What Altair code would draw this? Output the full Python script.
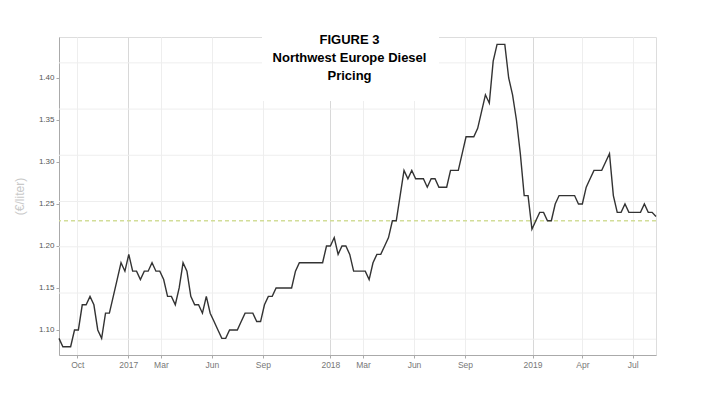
import altair as alt
import pandas as pd

# ---- data ----
title_lines = ["FIGURE 3", "Northwest Europe Diesel", "Pricing"]
y_title = "(€/liter)"
start_date = "2016-08-29"  # first weekly observation
price = [
    1.09, 1.08, 1.08, 1.08, 1.10, 1.10, 1.13, 1.13, 1.14, 1.13,
    1.10, 1.09, 1.12, 1.12, 1.14, 1.16, 1.18, 1.17, 1.19, 1.17,
    1.17, 1.16, 1.17, 1.17, 1.18, 1.17, 1.17, 1.16, 1.14, 1.14,
    1.13, 1.15, 1.18, 1.17, 1.14, 1.13, 1.13, 1.12, 1.14, 1.12,
    1.11, 1.10, 1.09, 1.09, 1.10, 1.10, 1.10, 1.11, 1.12, 1.12,
    1.12, 1.11, 1.11, 1.13, 1.14, 1.14, 1.15, 1.15, 1.15, 1.15,
    1.15, 1.17, 1.18, 1.18, 1.18, 1.18, 1.18, 1.18, 1.18, 1.20,
    1.20, 1.21, 1.19, 1.20, 1.20, 1.19, 1.17, 1.17, 1.17, 1.17,
    1.16, 1.18, 1.19, 1.19, 1.20, 1.21, 1.23, 1.23, 1.26, 1.29,
    1.28, 1.29, 1.28, 1.28, 1.28, 1.27, 1.28, 1.28, 1.27, 1.27,
    1.27, 1.29, 1.29, 1.29, 1.31, 1.33, 1.33, 1.33, 1.34, 1.36,
    1.38, 1.37, 1.42, 1.44, 1.44, 1.44, 1.40, 1.38, 1.35, 1.31,
    1.26, 1.26, 1.22, 1.23, 1.24, 1.24, 1.23, 1.23, 1.25, 1.26,
    1.26, 1.26, 1.26, 1.26, 1.25, 1.25, 1.27, 1.28, 1.29, 1.29,
    1.29, 1.30, 1.31, 1.26, 1.24, 1.24, 1.25, 1.24, 1.24, 1.24,
    1.24, 1.25, 1.24, 1.24, 1.235,
]
reference_level = [1.23]
grid_levels = [1.089, 1.144, 1.199, 1.253, 1.308, 1.363, 1.418]
y_ticks = [1.10, 1.15, 1.20, 1.25, 1.30, 1.35, 1.40]
y_domain = [1.0702, 1.4488]
x_tick_months = [(2016, 10), (2017, 1), (2017, 3), (2017, 6), (2017, 9),
                 (2018, 1), (2018, 3), (2018, 6), (2018, 9),
                 (2019, 1), (2019, 4), (2019, 7)]

# ---- tables ----
df = pd.DataFrame({
    "date": pd.date_range(start_date, periods=len(price), freq="7D"),
    "value": price,
})
ref_df = pd.DataFrame({"value": reference_level})
grid_df = pd.DataFrame({"value": grid_levels})

yenc = alt.Y(
    "value:Q",
    scale=alt.Scale(domain=y_domain, nice=False, zero=False),
    axis=alt.Axis(
        title=y_title, values=y_ticks, format=".2f", grid=False,
        labelFontSize=8, labelColor="#555555", labelFont="Liberation Sans",
        tickSize=3, tickColor="#aaaaaa", domainColor="#aaaaaa",
        labelPadding=2,
        titleFont="Liberation Sans", titleFontSize=12, titleFontWeight="normal",
        titleColor="#c8c8c8", titlePadding=12,
    ),
)

xenc = alt.X(
    "date:T",
    scale=alt.Scale(nice=False),
    axis=alt.Axis(
        title=None,
        values=[alt.DateTime(year=y, month=m, date=1) for y, m in x_tick_months],
        labelExpr="month(datum.value) == 0 ? timeFormat(datum.value, '%Y') : timeFormat(datum.value, '%b')",
        labelFontSize=8.5, labelColor="#777777", labelFont="Liberation Sans",
        tickSize=3, tickColor="#aaaaaa", domainColor="#aaaaaa", labelPadding=2,
        grid=True,
        gridColor={"condition": {"test": "month(datum.value) == 0", "value": "#d8d8d8"},
                   "value": "#eeeeee"},
        gridWidth=1,
    ),
)

hgrid = alt.Chart(grid_df).mark_rule(color="#eeeeee", strokeWidth=1).encode(y=yenc)
# white patch behind the title block (hides gridlines there, as in the reference)
title_bg = alt.Chart(ref_df).mark_rect(color="white").encode(
    x=alt.value(203), x2=alt.value(380), y=alt.value(0), y2=alt.value(64)
)
ref = alt.Chart(ref_df).mark_rule(color="#d2dd98", strokeWidth=1.5, strokeDash=[4, 3]).encode(y=yenc)
line = alt.Chart(df).mark_line(color="#333333", strokeWidth=1.4).encode(x=xenc, y=yenc)

chart = alt.layer(hgrid, title_bg, ref, line).properties(
    width=597,
    height=318,
    autosize=alt.AutoSizeParams(type="none"),
    padding={"left": 51, "top": 29, "right": 30, "bottom": 20},
    title=alt.TitleParams(
        text=title_lines, anchor="middle", font="Liberation Sans", fontSize=13,
        fontWeight="bold", color="black", lineHeight=18, baseline="top",
        offset=0, dx=-8, dy=46,
    ),
).configure_view(stroke=None).configure(background="white")

chart.save("out.html", embed_options={"renderer": "svg", "actions": False})
